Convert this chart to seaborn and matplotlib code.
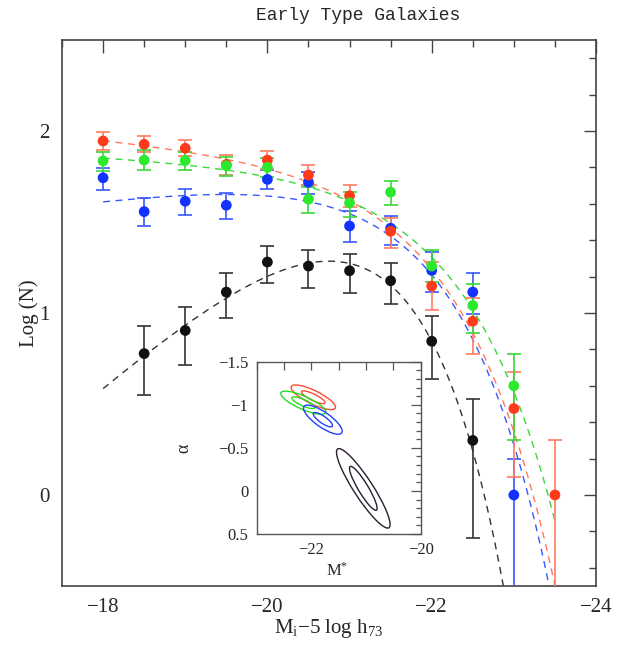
import numpy as np
import pandas as pd
import matplotlib
matplotlib.use("Agg")
import matplotlib.pyplot as plt
import seaborn as sns
from matplotlib.patches import Ellipse
from matplotlib.transforms import ScaledTranslation
from matplotlib.ticker import MultipleLocator, FixedLocator, FuncFormatter

# ---------------- data ----------------
mag = [-18.0, -18.5, -19.0, -19.5, -20.0, -20.5, -21.0, -21.5, -22.0, -22.5, -23.0, -23.5]

red_y = [1.945, 1.927, 1.905, 1.816, 1.840, 1.758, 1.644, 1.449, 1.148, 0.955, 0.475, 0.0]
red_up = [0.047, 0.045, 0.045, 0.050, 0.048, 0.053, 0.060, 0.075, 0.130, 0.125, 0.200, 0.300]
red_lo = [0.047, 0.045, 0.045, 0.060, 0.048, 0.053, 0.060, 0.094, 0.134, 0.178, 0.375, 1.000]

green_y = [1.836, 1.840, 1.838, 1.809, 1.800, 1.625, 1.605, 1.664, 1.258, 1.041, 0.600]
green_up = [0.050, 0.053, 0.046, 0.050, 0.050, 0.065, 0.060, 0.062, 0.086, 0.116, 0.177]
green_lo = [0.058, 0.055, 0.053, 0.055, 0.055, 0.073, 0.080, 0.072, 0.090, 0.150, 0.300]

blue_y = [1.743, 1.557, 1.614, 1.592, 1.734, 1.718, 1.478, 1.466, 1.234, 1.115, 0.000]
blue_up = [0.053, 0.073, 0.066, 0.065, 0.050, 0.058, 0.080, 0.067, 0.100, 0.106, 0.200]
blue_lo = [0.065, 0.079, 0.075, 0.073, 0.055, 0.065, 0.088, 0.094, 0.120, 0.120, 1.000]

black_x = [-18.5, -19.0, -19.5, -20.0, -20.5, -21.0, -21.5, -22.0, -22.5]
black_y = [0.777, 0.904, 1.115, 1.280, 1.258, 1.232, 1.177, 0.845, 0.300]
black_up = [0.150, 0.130, 0.106, 0.088, 0.088, 0.090, 0.097, 0.141, 0.230]
black_lo = [0.226, 0.189, 0.145, 0.114, 0.119, 0.121, 0.130, 0.208, 0.535]

# Schechter fit parameters for the dashed curves (log amplitude, M*, alpha)
fit_names = ["black", "red", "green", "blue"]
fit_logamp = [1.719, 1.812, 1.785, 1.840]
fit_mstar = [-20.75, -21.72, -21.90, -21.55]
fit_alpha = [0.00, -1.10, -1.05, -0.85]

# inset confidence ellipses: centre (M*, alpha), size (inches), angle (deg)
ell_color = ["red", "red", "green", "green", "blue", "blue", "black", "black"]
ell_cx = [-21.965, -21.965, -22.148, -22.148, -21.79, -21.79, -21.05, -21.05]
ell_cy = [-1.087, -1.087, -1.024, -1.024, -0.827, -0.827, -0.03, -0.03]
ell_w = [0.49, 0.26, 0.49, 0.25, 0.46, 0.23, 0.94, 0.51]
ell_h = [0.135, 0.064, 0.13, 0.064, 0.15, 0.07, 0.19, 0.10]
ell_ang = [-26, -26, -24, -24, -35, -35, -57, -59]

col = {"red": "#ff3a1a", "green": "#2ee82e", "blue": "#1232ff", "black": "#111111"}
ecol = {"red": "#ff7a60", "green": "#3ad83a", "blue": "#3a58ff", "black": "#333333"}
ell_col = {"red": "#ff4a30", "green": "#22dd22", "blue": "#2040ff", "black": "#2a1f2f"}

# ---------------- style ----------------
sns.set_style("white")
plt.rcParams["font.family"] = ["Liberation Serif", "DejaVu Serif"]
plt.rcParams["mathtext.fontset"] = "custom"
plt.rcParams["mathtext.rm"] = "Liberation Serif"
plt.rcParams["mathtext.it"] = "Liberation Serif"
plt.rcParams["axes.unicode_minus"] = True

fig = plt.figure(figsize=(6.43, 6.48), dpi=100)
ax = fig.add_axes([62 / 643, (648 - 586) / 648, (596 - 62) / 643, (586 - 40) / 648])


def schechter_log(M, a, ms, al):
    u = 0.4 * (ms - M)
    return a + (al + 1) * u - 10 ** u / np.log(10)


Mgrid = np.linspace(-18.0, -23.5, 300)
for name, a, ms, al in zip(fit_names, fit_logamp, fit_mstar, fit_alpha):
    df = pd.DataFrame({"M": Mgrid, "logN": schechter_log(Mgrid, a, ms, al)})
    sns.lineplot(data=df, x="M", y="logN", ax=ax, color=ecol[name], lw=1.0,
                 linestyle=(0, (5, 4)), estimator=None, sort=False, zorder=2)

series = [
    ("blue", mag[:len(blue_y)], blue_y, blue_lo, blue_up),
    ("red", mag, red_y, red_lo, red_up),
    ("green", mag[:len(green_y)], green_y, green_lo, green_up),
    ("black", black_x, black_y, black_lo, black_up),
]
for name, xs, ys, lo, up in series:
    ax.errorbar(xs, ys, yerr=[lo, up], fmt="none", ecolor=ecol[name],
                elinewidth=1.2, capsize=5, capthick=1.2, zorder=3)
    sns.scatterplot(x=xs, y=ys, ax=ax, color=col[name], s=60,
                    edgecolor="none", zorder=4, legend=False)

ax.set_xlim(-17.5, -24)
ax.set_ylim(-0.5, 2.5)
ax.xaxis.set_major_locator(MultipleLocator(2))
ax.xaxis.set_minor_locator(MultipleLocator(0.5))
ax.yaxis.set_major_locator(MultipleLocator(1))
ax.yaxis.set_minor_locator(MultipleLocator(0.2))
ax.tick_params(which="both", direction="in", top=True, right=True,
               color="#444444", width=1.0)
ax.tick_params(which="major", length=9, labelsize=15, pad=9)
ax.tick_params(which="minor", length=5)
ax.tick_params(axis="y", which="major", labelsize=15, pad=9)
for sp in ax.spines.values():
    sp.set_color("#444444")
    sp.set_linewidth(1.2)
ax.set_xlabel("")
ax.set_ylabel("Log (N)", fontsize=15)
ax.yaxis.set_label_coords(-0.043, 0.5)

fig.text(329 / 643, 1 - 628 / 648, r"M$_{\mathrm{i}}$$-$5 log h$_{73}$",
         ha="center", va="center", fontsize=15)
fig.text(358 / 643, 1 - 15 / 648, "Early Type Galaxies", ha="center",
         va="center", fontsize=13, family=["Liberation Mono", "DejaVu Sans Mono"])

# ---------------- inset ----------------
axin = fig.add_axes([256.7 / 643, (648 - 534) / 648, 164 / 643, 172.3 / 648])
axin.set_xlim(-23, -20)
axin.set_ylim(0.5, -1.5)
axin.xaxis.set_major_locator(FixedLocator([-22, -20]))
axin.xaxis.set_minor_locator(MultipleLocator(0.5))
axin.yaxis.set_major_locator(MultipleLocator(0.5))
axin.yaxis.set_minor_locator(MultipleLocator(0.1))
fmt = FuncFormatter(lambda v, p: ("%g" % v).replace("-", "\u2212"))
axin.xaxis.set_major_formatter(fmt)
axin.yaxis.set_major_formatter(fmt)
axin.tick_params(which="both", direction="in", top=True, right=True,
                 color="#555555", width=0.9, labelsize=12)
axin.tick_params(which="major", length=6, pad=6)
axin.tick_params(axis="y", which="major", length=7, pad=6)
axin.tick_params(axis="x", which="minor", length=6)
axin.tick_params(axis="y", which="minor", length=3.5)
for sp in axin.spines.values():
    sp.set_color("#555555")
    sp.set_linewidth(1.0)
axin.set_xlabel("M$^{*}$", fontsize=12)
axin.xaxis.set_label_coords(0.49, -0.16)
axin.set_ylabel("\u03b1", fontsize=13)
axin.yaxis.set_label_coords(-0.39, 0.5)

for c, cx, cy, w, h, a in zip(ell_color, ell_cx, ell_cy, ell_w, ell_h, ell_ang):
    tr = fig.dpi_scale_trans + ScaledTranslation(cx, cy, axin.transData)
    axin.add_patch(Ellipse((0, 0), w, h, angle=a, transform=tr, fill=False,
                           edgecolor=ell_col[c], lw=1.0))

fig.savefig("out.png", dpi=100)
